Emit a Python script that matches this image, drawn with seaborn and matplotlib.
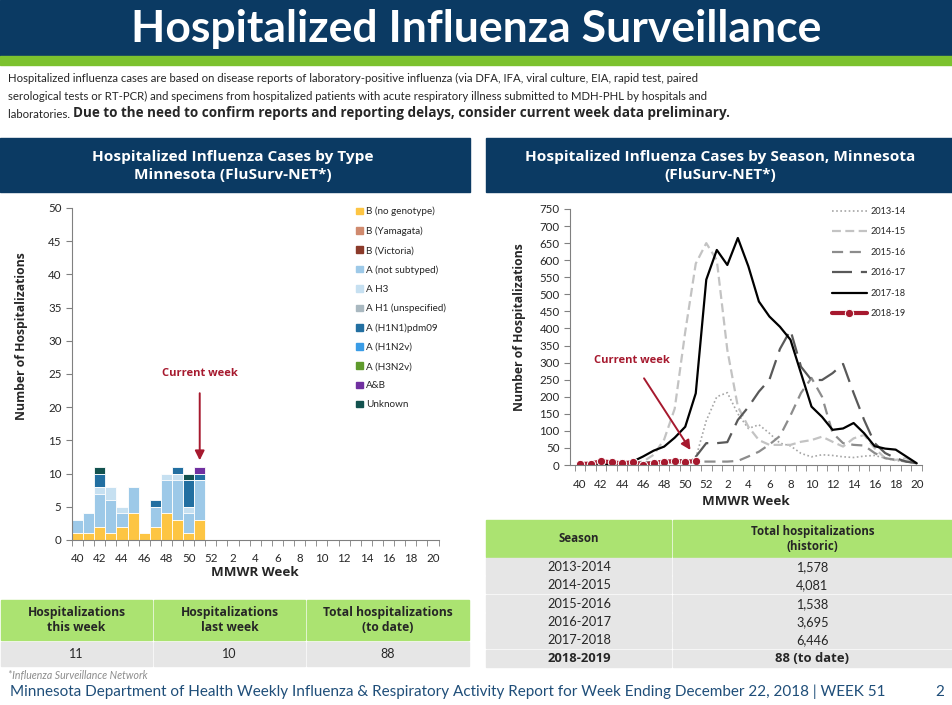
import numpy as np
import pandas as pd
import matplotlib
matplotlib.use("Agg")
import matplotlib.pyplot as plt
from matplotlib.patches import Rectangle
import seaborn as sns

W, H = 953, 705

weeks = [str(w) for w in range(40, 53)] + [str(w) for w in range(1, 21)]
tick_weeks = weeks[::2]

# hospitalizations by type, MMWR weeks 40-51
type_names = ["B (no genotype)", "B (Yamagata)", "B (Victoria)", "A (not subtyped)", "A H3",
              "A H1 (unspecified)", "A (H1N1)pdm09", "A (H1N2v)", "A (H3N2v)", "A&B", "Unknown"]
type_colors = ["#fdc543", "#d08a6e", "#8b3a2a", "#9dc9e8", "#c6e0f1",
               "#a9b8c0", "#226fa1", "#3a9ce6", "#5e9a2c", "#7030a0", "#12524f"]
b_nogeno = [1, 1, 2, 1, 2, 4, 1, 2, 4, 3, 1, 3]
b_yamagata = [0, 0, 0, 0, 0, 0, 0, 0, 0, 0, 0, 0]
b_victoria = [0, 0, 0, 0, 0, 0, 0, 0, 0, 0, 0, 0]
a_notsub = [2, 3, 5, 5, 2, 4, 0, 3, 5, 6, 3, 6]
a_h3 = [0, 0, 1, 2, 1, 0, 0, 0, 1, 1, 1, 0]
a_h1 = [0, 0, 0, 0, 0, 0, 0, 0, 0, 0, 0, 0]
a_pdm09 = [0, 0, 2, 0, 0, 0, 0, 1, 0, 1, 4, 1]
a_h1n2v = [0, 0, 0, 0, 0, 0, 0, 0, 0, 0, 0, 0]
a_h3n2v = [0, 0, 0, 0, 0, 0, 0, 0, 0, 0, 0, 0]
a_and_b = [0, 0, 0, 0, 0, 0, 0, 0, 0, 0, 0, 1]
unknown = [0, 0, 1, 0, 0, 0, 0, 0, 0, 0, 1, 0]
type_counts = [b_nogeno, b_yamagata, b_victoria, a_notsub, a_h3, a_h1,
               a_pdm09, a_h1n2v, a_h3n2v, a_and_b, unknown]

# hospitalizations by season, weeks 40..20
seasons = ["2013-14", "2014-15", "2015-16", "2016-17", "2017-18", "2018-19"]
s2013 = [0, 0, 1, 1, 1, 2, 2, 3, 4, 6, 10, 20, 130, 200, 212, 150, 107, 118, 93, 64, 56, 34,
         24, 30, 28, 24, 22, 26, 28, 20, 13, 10, 5]
s2014 = [2, 2, 3, 3, 4, 6, 10, 30, 75, 165, 390, 590, 650, 600, 337, 171, 112, 73, 59, 59, 59,
         68, 73, 83, 68, 54, 78, 88, 49, 20, 15, 20, 5]
s2015 = [5, 5, 5, 6, 6, 6, 7, 8, 8, 9, 10, 10, 10, 10, 10, 12, 25, 39, 60, 85, 145, 211, 255,
         200, 94, 64, 59, 57, 35, 20, 15, 10, 7]
s2016 = [3, 3, 4, 5, 5, 6, 7, 8, 10, 12, 15, 24, 64, 64, 67, 132, 170, 215, 250, 340, 395, 288,
         249, 249, 269, 296, 211, 132, 64, 35, 20, 10, 5]
s2017 = [1, 1, 2, 2, 3, 10, 25, 42, 54, 80, 112, 210, 543, 630, 586, 665, 582, 479, 435, 405,
         367, 269, 171, 141, 103, 107, 123, 93, 55, 48, 45, 25, 5]
s2018 = [3, 4, 11, 8, 5, 8, 1, 6, 10, 11, 10, 11]
season_series = [s2013, s2014, s2015, s2016, s2017, s2018]

table_seasons = ["2013-2014", "2014-2015", "2015-2016", "2016-2017", "2017-2018", "2018-2019"]
table_totals = ["1,578", "4,081", "1,538", "3,695", "6,446", "88 (to date)"]
week_headers = ["Hospitalizations\nthis week", "Hospitalizations\nlast week", "Total hospitalizations\n(to date)"]
week_values = ["11", "10", "88"]

NAVY = "#0b3a63"
GREEN = "#7cc22e"
TGREEN = "#abe371"
TGRAY = "#e6e6e6"
RED = "#a6192e"
BOLDF = ["Open Sans", "DejaVu Sans"]

sns.set_style("ticks")
plt.rcParams["font.family"] = ["Lato", "DejaVu Sans"]

fig = plt.figure(figsize=(W / 100, H / 100), dpi=100)


def px(x0, y0, x1, y1):
    return [x0 / W, 1 - y1 / H, (x1 - x0) / W, (y1 - y0) / H]


bg = fig.add_axes([0, 0, 1, 1])
bg.set_xlim(0, W)
bg.set_ylim(H, 0)
bg.axis("off")

# header
bg.add_patch(Rectangle((0, 0), W, 56, color=NAVY))
bg.add_patch(Rectangle((0, 56), W, 9, color=GREEN))
bg.text(W / 2, 29, "Hospitalized Influenza Surveillance", color="white", fontsize=32,
        fontweight="bold", ha="center", va="center")

body = ("Hospitalized influenza cases are based on disease reports of laboratory-positive influenza "
        "(via DFA, IFA, viral culture, EIA, rapid test, paired")
bg.text(8, 78, body, fontsize=8.2, va="center", ha="left")
bg.text(8, 96, "serological tests or RT-PCR) and specimens from hospitalized patients with acute "
        "respiratory illness submitted to MDH-PHL by hospitals and", fontsize=8.2, va="center")
t = bg.text(8, 114, "laboratories. ", fontsize=8.2, va="center")
bg.annotate("Due to the need to confirm reports and reporting delays, consider current week data preliminary.",
            xycoords=t, xy=(1, 0), va="bottom", fontsize=9.75, fontweight="bold", family=BOLDF)

# panel headers
bg.add_patch(Rectangle((0, 138), 470, 54, color=NAVY))
bg.add_patch(Rectangle((486, 138), W - 486, 54, color=NAVY))
bg.text(233, 166, "Hospitalized Influenza Cases by Type\nMinnesota (FluSurv-NET*)", color="white",
        fontsize=11.1, fontweight="bold", family=BOLDF, ha="center", va="center", linespacing=1.3)
bg.text(720, 166, "Hospitalized Influenza Cases by Season, Minnesota\n(FluSurv-NET*)", color="white",
        fontsize=11.1, fontweight="bold", family=BOLDF, ha="center", va="center", linespacing=1.3)

# left table
col_edges = [0, 153, 306, 470]
for i in range(3):
    bg.add_patch(Rectangle((col_edges[i] + 1, 600), col_edges[i + 1] - col_edges[i] - 2, 40, color=TGREEN))
    bg.add_patch(Rectangle((col_edges[i] + 1, 642), col_edges[i + 1] - col_edges[i] - 2, 24, color=TGRAY))
    cx = (col_edges[i] + col_edges[i + 1]) / 2
    bg.text(cx, 620, week_headers[i], fontsize=8.7, fontweight="bold", family=BOLDF, ha="center",
            va="center", linespacing=1.2)
    bg.text(cx, 654, week_values[i], fontsize=9, ha="center", va="center")

bg.text(8, 675, "*Influenza Surveillance Network", fontsize=7.6, style="italic", color="#8c8c8c", va="center")
bg.text(10, 692, "Minnesota Department of Health Weekly Influenza & Respiratory Activity Report for Week "
        "Ending December 22, 2018 | WEEK 51", fontsize=11, color="#1f4e79", va="center")
bg.text(940, 692, "2", fontsize=11, color="#1f4e79", va="center", ha="center")

# right table
rx0, rsplit, rx1 = 486, 672, W
bg.add_patch(Rectangle((rx0, 520), rsplit - rx0 - 1, 37, color=TGREEN))
bg.add_patch(Rectangle((rsplit + 1, 520), rx1 - rsplit - 1, 37, color=TGREEN))
bg.text((rx0 + rsplit) / 2, 539, "Season", fontsize=8.3, fontweight="bold", family=BOLDF,
        ha="center", va="center")
bg.text((rsplit + rx1) / 2, 539, "Total hospitalizations\n(historic)", fontsize=8.3, fontweight="bold",
        family=BOLDF, ha="center", va="center", linespacing=1.2)
row_h = 18.3
for i, (s, tot) in enumerate(zip(table_seasons, table_totals)):
    y0 = 558 + i * row_h
    bg.add_patch(Rectangle((rx0, y0), rsplit - rx0 - 1, row_h - 1.2, color=TGRAY))
    bg.add_patch(Rectangle((rsplit + 1, y0), rx1 - rsplit - 1, row_h - 1.2, color=TGRAY))
    if i == len(table_seasons) - 1:
        kw = dict(fontweight="bold", family=BOLDF, fontsize=9.4)
    else:
        kw = dict(fontsize=9.2)
    bg.text((rx0 + rsplit) / 2, y0 + row_h / 2, s, ha="center", va="center", **kw)
    bg.text((rsplit + rx1) / 2, y0 + row_h / 2, tot, ha="center", va="center", **kw)

# ---- left chart: stacked bars ----
ax1 = fig.add_axes(px(72, 208, 438.5, 540))
rows = []
for name, vals in zip(type_names, type_counts):
    for w, v in zip(weeks, vals):
        rows.append({"week": w, "type": name, "count": v})
df_type = pd.DataFrame(rows)
df_type["cum"] = df_type.groupby("week")["count"].cumsum()
for name, col in reversed(list(zip(type_names, type_colors))):
    sub = df_type[df_type["type"] == name]
    sub = sub[sub["cum"] > 0]
    sns.barplot(data=sub, x="week", y="cum", order=weeks, color=col, width=1.0,
                edgecolor="white", linewidth=0.6, saturation=1, ax=ax1)
ax1.set_xlim(-0.5, len(weeks) - 0.5)
ax1.set_ylim(0, 50)
ax1.set_yticks(range(0, 51, 5))
ax1.set_xticks(range(0, len(weeks), 2))
ax1.set_xticklabels(tick_weeks)
ax1.set_xticks(np.arange(-0.5, len(weeks), 1), minor=True)
ax1.tick_params(axis="x", which="major", length=0, labelsize=8.3, pad=9)
ax1.tick_params(axis="x", which="minor", length=4, color="#808080")
ax1.tick_params(axis="y", length=4, labelsize=8.3, color="#808080")
ax1.set_xlabel("MMWR Week", fontsize=9.6, fontweight="bold", family=BOLDF, labelpad=2)
ax1.set_ylabel("Number of Hospitalizations", fontsize=8.8, fontweight="bold", family=BOLDF)
ax1.yaxis.set_label_coords(-0.12, 0.614)
sns.despine(ax=ax1)
for sp in ["left", "bottom"]:
    ax1.spines[sp].set_color("#808080")
handles = [Rectangle((0, 0), 1, 1, color=c) for c in type_colors]
ax1.legend(handles, type_names, loc="upper left", bbox_to_anchor=(0.752, 1.03), frameon=False,
           fontsize=7.1, handlelength=0.62, handleheight=0.62, handletextpad=0.35, labelspacing=1.02)
ax1.annotate("Current week", xy=(11, 12.0), xytext=(11, 25.1), color=RED, fontsize=8,
             fontweight="bold", family=BOLDF, ha="center", va="center",
             arrowprops=dict(arrowstyle="-|>", color=RED, lw=1.4, shrinkA=8, shrinkB=0,
                             mutation_scale=14))

# ---- right chart: lines by season ----
ax2 = fig.add_axes(px(570, 209, 922, 465))
styles = [
    dict(color="#a6a6a6", lw=1.2, dashes=(1, 1.5)),
    dict(color="#c3c3c3", lw=1.6, dashes=(4, 2)),
    dict(color="#8c8c8c", lw=1.6, dashes=(5, 3)),
    dict(color="#595959", lw=1.6, dashes=(9, 4)),
    dict(color="black", lw=1.6),
    dict(color=RED, lw=3, marker="o", markersize=6),
]
for name, vals, st in zip(seasons, season_series, styles):
    d = pd.DataFrame({"x": range(len(vals)), "y": vals})
    sns.lineplot(data=d, x="x", y="y", ax=ax2, label=name, **st)
ax2.set_xlim(-0.95, len(weeks) - 0.55)
ax2.set_ylim(0, 750)
ax2.set_yticks(range(0, 751, 50))
ax2.set_xticks(range(0, len(weeks), 2))
ax2.set_xticklabels(tick_weeks)
ax2.set_xticks(np.arange(-0.5, len(weeks), 1), minor=True)
ax2.tick_params(axis="x", which="major", length=0, labelsize=8.3, pad=10)
ax2.tick_params(axis="x", which="minor", length=4, color="#808080")
ax2.tick_params(axis="y", length=4, labelsize=8.3, color="#808080")
ax2.set_xlabel("MMWR Week", fontsize=9.6, fontweight="bold", family=BOLDF, labelpad=4)
ax2.set_ylabel("Number of Hospitalizations", fontsize=8.8, fontweight="bold", family=BOLDF)
ax2.yaxis.set_label_coords(-0.125, 0.54)
sns.despine(ax=ax2)
for sp in ["left", "bottom"]:
    ax2.spines[sp].set_color("#808080")
ax2.legend(loc="upper left", bbox_to_anchor=(0.72, 1.04), frameon=False, fontsize=6.6,
           handlelength=3.8, handletextpad=0.4, labelspacing=1.25)
ax2.annotate("Current week", xy=(10.5, 44), xytext=(4.97, 307), color=RED, fontsize=8,
             fontweight="bold", family=BOLDF, ha="center", va="center",
             arrowprops=dict(arrowstyle="-|>", color=RED, lw=1.4, shrinkA=8, shrinkB=0,
                             mutation_scale=14))

fig.savefig("out.png", dpi=100)
